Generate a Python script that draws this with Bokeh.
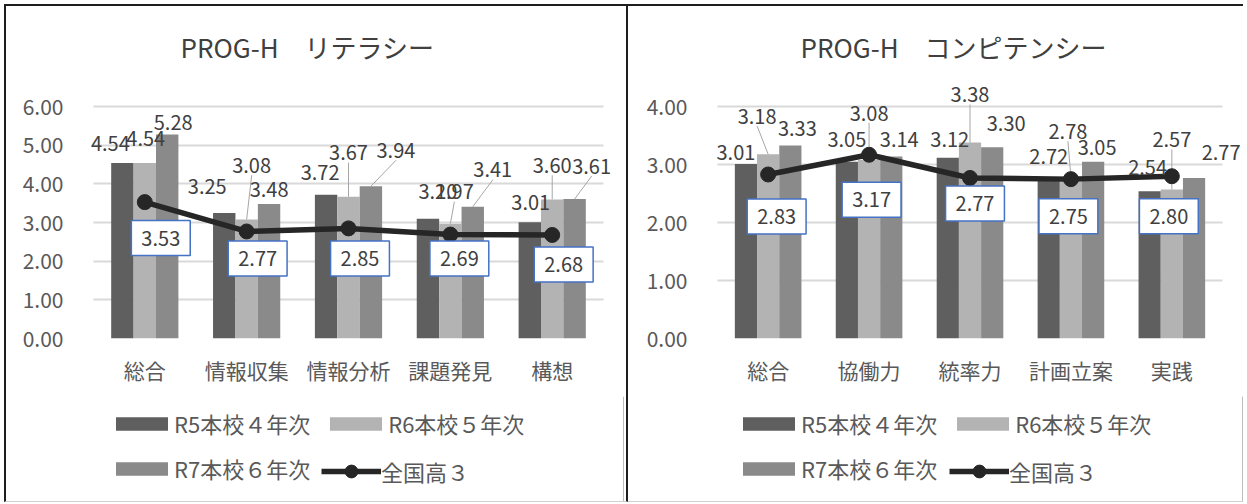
from bokeh.plotting import figure
from bokeh.models import (ColumnDataSource, FactorRange, Range1d, LabelSet, Label,
                          Legend, LegendItem, FixedTicker, NumeralTickFormatter)
from bokeh.core.properties import value
from bokeh.transform import dodge
from bokeh.layouts import row, column
from bokeh.embed import file_html
from bokeh.resources import INLINE

FONT = "Noto Sans CJK JP"

# ---------------- data ----------------
lit_title = "PROG-H\u3000リテラシー"
lit_categories = ["総合", "情報収集", "情報分析", "課題発見", "構想"]
lit_r5 = [4.54, 3.25, 3.72, 3.10, 3.01]
lit_r6 = [4.54, 3.08, 3.67, 2.97, 3.60]
lit_r7 = [5.28, 3.48, 3.94, 3.41, 3.61]
lit_nat = [3.53, 2.77, 2.85, 2.69, 2.68]
lit_ticks = [0, 1, 2, 3, 4, 5, 6]

comp_title = "PROG-H\u3000コンピテンシー"
comp_categories = ["総合", "協働力", "統率力", "計画立案", "実践"]
comp_r5 = [3.01, 3.05, 3.12, 2.72, 2.54]
comp_r6 = [3.18, 3.08, 3.38, 2.78, 2.57]
comp_r7 = [3.33, 3.14, 3.30, 3.05, 2.77]
comp_nat = [2.83, 3.17, 2.77, 2.75, 2.80]
comp_ticks = [0, 1, 2, 3, 4]

bar_names = ["R5本校４年次", "R6本校５年次", "R7本校６年次"]
line_name = "全国高３"

# ---------------- styling / label placement (pixels) ----------------
BAR_COLORS = ["#5f5f5f", "#b3b3b3", "#8a8a8a"]
BAR_OFFSETS = [-0.22, 0.0, 0.22]
LINE_COLOR = "#262626"
AXIS_TEXT = "#595959"
LABEL_TEXT = "#404040"
BORDER = "2px solid #1e1e1e"
PAD = 0.2

lit_lab_dx = [[-12, -17, -6, 10, 1], [1, 5, 0, 4, 0], [6, 0, 25, 20, 17]]
lit_lab_dy = [[-20, -26, -22, -27, -20], [-25, -54, -44, -32, -34], [-12, -15, -36, -37, -33]]
lit_leaders = [(1, 1), (1, 2), (1, 3), (1, 4), (2, 2), (2, 3), (2, 4)]
lit_box_dx = [16, 11, 11.5, 9, 11.5]
lit_box_dy = [36, 27, 30, 24, 29.5]

comp_lab_dx = [[-10, 0, 2, 0, -2], [-11, 0, 0, -3, 0], [7, 8, 14, 4, 27]]
comp_lab_dy = [[-12, -22, -18, -24, -24], [-38, -47, -48, -46, -50], [-17, -17, -24, -14, -25]]
comp_leaders = [(1, 0), (1, 1), (1, 2), (1, 3), (1, 4)]
comp_box_dx = [8.5, 2.5, 5, -2.5, -3]
comp_box_dy = [42, 45, 25.5, 37, 40]

CHART_H = 392      # includes the 2px top border
LEG_H = 106        # includes the 1px bottom border
MB_TOP = 76
MB_BOTTOM = 60


def make_chart(title, cats, series, nat, ticks, yend, lab_dx, lab_dy, leaders,
               box_dx, box_dy, width, side_borders, mb_left, mb_right, title_offset, styles):
    n = len(cats)
    frame_w = width - side_borders - mb_left - mb_right
    frame_h = CHART_H - 2 - MB_TOP - MB_BOTTOM
    px_cat = frame_w / (n + 2 * PAD)
    px_unit = frame_h / yend
    xr = FactorRange(*cats, range_padding=PAD, range_padding_units="absolute")
    p = figure(x_range=xr, y_range=Range1d(0, yend),
               width=width, height=CHART_H, output_backend="svg", toolbar_location=None,
               min_border_left=mb_left, min_border_right=mb_right,
               min_border_top=MB_TOP, min_border_bottom=MB_BOTTOM, title=title)
    p.styles = styles
    p.outline_line_color = None
    p.background_fill_color = "white"
    p.border_fill_color = "white"

    p.title.align = "left"
    p.title.offset = title_offset
    p.title.standoff = 38
    p.title.text_font = FONT
    p.title.text_font_size = "26px"
    p.title.text_font_style = "normal"
    p.title.text_color = "#404040"

    p.xaxis.axis_line_color = None
    p.xaxis.major_tick_line_color = None
    p.xaxis.minor_tick_line_color = None
    p.xaxis.major_label_text_font = FONT
    p.xaxis.major_label_text_font_size = "21px"
    p.xaxis.major_label_text_color = AXIS_TEXT
    p.xaxis.major_label_standoff = 10

    p.yaxis.ticker = FixedTicker(ticks=ticks)
    p.yaxis.formatter = NumeralTickFormatter(format="0.00")
    p.yaxis.axis_line_color = None
    p.yaxis.major_tick_line_color = None
    p.yaxis.minor_tick_line_color = None
    p.yaxis.major_label_text_font = FONT
    p.yaxis.major_label_text_font_size = "21px"
    p.yaxis.major_label_text_color = AXIS_TEXT
    p.yaxis.major_label_standoff = 4

    p.xgrid.grid_line_color = None
    grid = p.ygrid[0]
    if "cross_bounds" in grid.properties():
        grid.grid_line_color = "#d9d9d9"
        grid.grid_line_width = 2
        grid.cross_bounds = (0, n)
    else:
        grid.grid_line_color = None
        p.segment(x0=[0] * len(ticks), x1=[n] * len(ticks), y0=ticks, y1=ticks,
                  line_color="#d9d9d9", line_width=2)

    data = dict(cat=cats, nat=nat)
    for k, vals in enumerate(series):
        data[f"s{k}"] = vals
        data[f"t{k}"] = [f"{v:.2f}" for v in vals]
        data[f"dx{k}"] = lab_dx[k]
        data[f"dy{k}"] = [-d for d in lab_dy[k]]
    src = ColumnDataSource(data)

    for k in range(3):
        p.vbar(x=dodge("cat", BAR_OFFSETS[k], range=p.x_range), top=f"s{k}", width=0.22,
               source=src, fill_color=BAR_COLORS[k], line_color=None)

    # leader lines for moved data labels
    for k in range(3):
        lx, ly, lc, lv = [], [], [], []
        for (kk, i) in leaders:
            if kk != k:
                continue
            v = series[k][i]
            lc.append(cats[i])
            lv.append(v)
            lx.append(i + 0.5 + BAR_OFFSETS[k] + lab_dx[k][i] / px_cat)
            ly.append(v + (-lab_dy[k][i] - 10) / px_unit)
        if lc:
            lsrc = ColumnDataSource(dict(cat=lc, v=lv, lx=lx, ly=ly))
            p.segment(x0=dodge("cat", BAR_OFFSETS[k], range=p.x_range), y0="v", x1="lx", y1="ly",
                      source=lsrc, line_color="#a6a6a6", line_width=1)

    p.line(x="cat", y="nat", source=src, line_color=LINE_COLOR, line_width=5.5)
    p.scatter(x="cat", y="nat", source=src, size=15, marker="circle",
              fill_color=LINE_COLOR, line_color=LINE_COLOR)

    for k in range(3):
        p.add_layout(LabelSet(x=dodge("cat", BAR_OFFSETS[k], range=p.x_range), y=f"s{k}",
                              text=f"t{k}", x_offset=f"dx{k}", y_offset=f"dy{k}", source=src,
                              text_align="center", text_baseline="middle",
                              text_font=value(FONT), text_font_size="20px", text_color=LABEL_TEXT))

    for i, c in enumerate(cats):
        p.add_layout(Label(x=i + 0.5, y=nat[i], text=f"{nat[i]:.2f}", x_offset=box_dx[i], y_offset=-box_dy[i],
                           text_align="center", text_baseline="middle",
                           text_font=FONT, text_font_size="20px", text_color=LABEL_TEXT,
                           background_fill_color="white", border_line_color="#4472C4",
                           border_line_width=1.5, padding=10))
    return p


def make_legend(width, bar_x, line_x, styles):
    q = figure(x_range=Range1d(0, 1), y_range=Range1d(0, 1), width=width, height=LEG_H,
               output_backend="svg", toolbar_location=None, x_axis_type=None, y_axis_type=None,
               min_border=0)
    q.styles = styles
    q.outline_line_color = None
    q.xgrid.grid_line_color = None
    q.ygrid.grid_line_color = None
    # legend swatches only: the glyphs sit outside the visible range
    bars = [q.vbar(x=[5], top=[1], width=0.1, fill_color=BAR_COLORS[k], line_color=None) for k in range(3)]
    ln = q.line(x=[5, 6], y=[5, 5], line_color=LINE_COLOR, line_width=5.5)
    dt = q.scatter(x=[5], y=[5], size=15, marker="circle", fill_color=LINE_COLOR, line_color=LINE_COLOR)
    common = dict(padding=0, margin=0, border_line_color=None, background_fill_alpha=0,
                  label_text_font=FONT, label_text_font_size="22px", label_text_color=AXIS_TEXT)
    leg_a = Legend(items=[LegendItem(label=bar_names[k], renderers=[bars[k]]) for k in range(3)],
                   location=(bar_x, 18), orientation="horizontal", ncols=2,
                   glyph_width=65, glyph_height=17, label_standoff=-4, spacing=13, label_width=125,
                   **common)
    leg_b = Legend(items=[LegendItem(label=line_name, renderers=[ln, dt])],
                   location=(line_x, 15), glyph_width=60, glyph_height=32, label_standoff=0,
                   **common)
    q.add_layout(leg_a)
    q.add_layout(leg_b)
    return q


c1 = make_chart(lit_title, lit_categories, [lit_r5, lit_r6, lit_r7], lit_nat, lit_ticks, 6.6,
                lit_lab_dx, lit_lab_dy, lit_leaders, lit_box_dx, lit_box_dy,
                width=624, side_borders=4, mb_left=67, mb_right=7, title_offset=107,
                styles={"border-left": BORDER, "border-top": BORDER, "border-right": BORDER})
l1 = make_legend(624, 36, 248,
                 styles={"border-left": BORDER, "border-right": BORDER, "border-bottom": "1px solid #d0d0d0"})
c2 = make_chart(comp_title, comp_categories, [comp_r5, comp_r6, comp_r7], comp_nat, comp_ticks, 4.4,
                comp_lab_dx, comp_lab_dy, comp_leaders, comp_box_dx, comp_box_dy,
                width=615, side_borders=0, mb_left=69, mb_right=1, title_offset=103,
                styles={"border-top": BORDER})
l2 = make_legend(615, 39, 252, styles={"border-bottom": "1px solid #d0d0d0"})

layout = row(column(c1, l1), column(c2, l2))
layout.styles = {"margin-left": "4px", "margin-top": "4px"}
open("out.html", "w").write(file_html(layout, INLINE))
